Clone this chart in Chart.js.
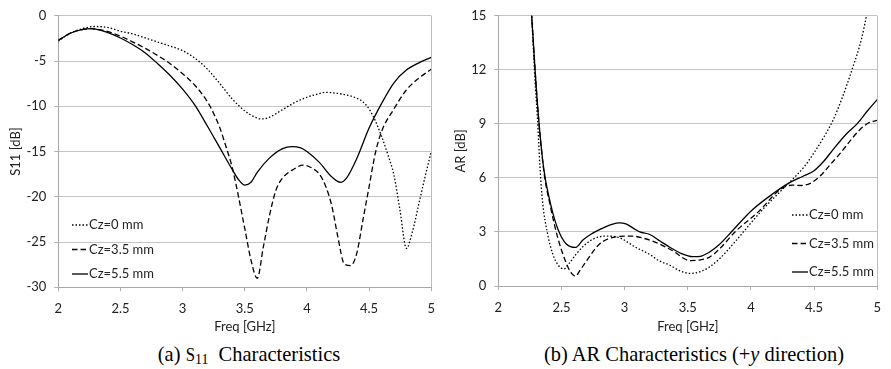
<!DOCTYPE html>
<html>
<head>
<meta charset="utf-8">
<script src="https://cdn.jsdelivr.net/npm/chart.js@4.4.0/dist/chart.umd.min.js"></script>
<style>
body { margin: 0; background: #fff; width: 891px; height: 369px; position: relative; overflow: hidden; }
.box { position: absolute; top: 0; height: 335px; }
.cap { position: absolute; top: 341px; font-family: "Liberation Serif", "Times New Roman", serif; font-size: 22px; color: #000; white-space: nowrap; transform: translateX(-50%) scaleX(0.93); }
</style>
</head>
<body>
<div class="box" style="left:0;width:445px"><canvas id="s11"></canvas></div>
<div class="box" style="left:445px;width:446px"><canvas id="ar"></canvas></div>
<div class="cap" style="left:249px">(a) <span style="font-size:18px">S</span><span style="font-size:15px;position:relative;top:3px">11</span>&nbsp; Characteristics</div>
<div class="cap" style="left:694px">(b) AR Characteristics (+<i>y</i> direction)</div>
<script>
var seriesLabels = ['Cz=0 mm', 'Cz=3.5 mm', 'Cz=5.5 mm'];
var freqTicks = [2, 2.5, 3, 3.5, 4, 4.5, 5];

// S11 [dB]
var s11Freq0 = [2.0, 2.1, 2.2, 2.3, 2.4, 2.5, 2.6, 2.7, 2.8, 2.9, 3.0, 3.1, 3.2, 3.3, 3.4, 3.5, 3.6, 3.65, 3.7, 3.8, 3.9, 4.0, 4.1, 4.15, 4.2, 4.3, 4.4, 4.45, 4.5, 4.55, 4.6, 4.65, 4.7, 4.75, 4.8, 4.85, 4.9, 4.95, 5.0];
var s11Cz0 = [-2.8, -1.9, -1.4, -1.18, -1.3, -1.7, -2.0, -2.45, -2.9, -3.35, -3.85, -4.7, -5.9, -7.5, -9.2, -10.5, -11.3, -11.4, -11.2, -10.4, -9.6, -9.0, -8.6, -8.45, -8.5, -8.7, -9.1, -9.5, -10.3, -11.6, -13.3, -15.3, -17.6, -21.6, -25.7, -23.8, -20.8, -17.8, -15.0];

var s11Freq35 = [2.0, 2.1, 2.2, 2.26, 2.3, 2.4, 2.5, 2.6, 2.7, 2.8, 2.9, 3.0, 3.1, 3.2, 3.25, 3.3, 3.35, 3.4, 3.5, 3.55, 3.6, 3.65, 3.7, 3.75, 3.8, 3.9, 3.97, 4.05, 4.1, 4.15, 4.2, 4.25, 4.3, 4.35, 4.4, 4.45, 4.5, 4.55, 4.6, 4.7, 4.8, 4.9, 5.0];
var s11Cz35 = [-2.7, -1.9, -1.5, -1.42, -1.45, -1.75, -2.25, -2.9, -3.6, -4.4, -5.3, -6.4, -7.7, -9.5, -10.8, -12.4, -14.5, -16.8, -23.5, -27.0, -29.0, -25.5, -22.0, -19.3, -18.0, -16.9, -16.5, -16.9, -17.5, -18.8, -21.0, -24.5, -27.4, -27.6, -26.3, -22.6, -18.9, -15.2, -12.8, -10.3, -8.2, -6.9, -5.9];

var s11Freq55 = [2.0, 2.1, 2.2, 2.26, 2.3, 2.4, 2.5, 2.6, 2.7, 2.8, 2.9, 3.0, 3.1, 3.2, 3.3, 3.4, 3.45, 3.5, 3.55, 3.6, 3.7, 3.8, 3.88, 3.95, 4.0, 4.1, 4.2, 4.27, 4.32, 4.4, 4.5, 4.6, 4.7, 4.8, 4.9, 5.0];
var s11Cz55 = [-2.7, -1.9, -1.5, -1.42, -1.48, -1.85, -2.45, -3.2, -4.1, -5.3, -6.6, -8.1, -9.9, -12.2, -14.6, -17.0, -18.1, -18.7, -18.4, -17.3, -15.7, -14.7, -14.45, -14.6, -15.0, -16.2, -17.8, -18.4, -17.9, -15.8, -12.4, -9.7, -7.4, -6.0, -5.2, -4.6];

// AR [dB]
var arFreq0 = [2.24, 2.264, 2.29, 2.31, 2.33, 2.35, 2.39, 2.43, 2.47, 2.52, 2.56, 2.62, 2.68, 2.75, 2.85, 2.95, 3.09, 3.2, 3.27, 3.36, 3.43, 3.52, 3.6, 3.67, 3.75, 3.88, 4.0, 4.09, 4.24, 4.34, 4.42, 4.5, 4.58, 4.65, 4.72, 4.8, 4.875, 4.915, 5.0];
var arCz0 = [17.5, 15, 11.5, 9.3, 6.6, 4.7, 2.9, 1.8, 1.2, 0.95, 1.25, 1.8, 2.25, 2.6, 2.77, 2.7, 2.14, 1.75, 1.41, 1.15, 0.87, 0.7, 0.8, 1.05, 1.5, 2.5, 3.5, 4.22, 5.3, 6.0, 6.6, 7.4, 8.3, 9.2, 10.4, 12.0, 13.7, 15.0, 18.0];

var arFreq35 = [2.24, 2.264, 2.31, 2.36, 2.41, 2.47, 2.53, 2.57, 2.61, 2.65, 2.7, 2.8, 2.93, 3.06, 3.15, 3.22, 3.37, 3.52, 3.6, 3.67, 3.75, 3.88, 4.06, 4.24, 4.33, 4.4, 4.47, 4.55, 4.63, 4.71, 4.79, 4.86, 4.93, 5.0];
var arCz35 = [17.5, 15, 10.1, 6.4, 4.5, 2.7, 1.41, 0.8, 0.55, 0.9, 1.41, 2.32, 2.73, 2.77, 2.65, 2.5, 2.0, 1.41, 1.45, 1.59, 2.05, 3.04, 4.13, 5.4, 5.6, 5.58, 5.7, 6.12, 6.75, 7.39, 8.1, 8.66, 9.05, 9.2];

var arFreq55 = [2.24, 2.264, 2.31, 2.36, 2.41, 2.45, 2.49, 2.54, 2.61, 2.67, 2.73, 2.83, 2.9, 2.96, 3.01, 3.07, 3.12, 3.2, 3.28, 3.36, 3.45, 3.54, 3.6, 3.67, 3.75, 3.85, 4.01, 4.19, 4.29, 4.42, 4.5, 4.58, 4.65, 4.75, 4.84, 4.92, 5.0];
var arCz55 = [17.5, 15, 10.1, 6.5, 4.67, 3.6, 2.86, 2.32, 2.14, 2.55, 2.86, 3.22, 3.42, 3.5, 3.45, 3.2, 3.0, 2.86, 2.5, 2.14, 1.8, 1.63, 1.65, 1.87, 2.3, 3.04, 4.22, 5.2, 5.67, 6.12, 6.4, 6.95, 7.57, 8.4, 9.0, 9.7, 10.35];

var lineStyles = [
    { borderDash: [1.5, 2] },
    { borderDash: [5.5, 3] },
    { borderDash: [] }
];

var axisFont = { family: 'Lato', size: 13 };

function points(xs, ys) {
    return xs.map(function (x, i) { return { x: x, y: ys[i] }; });
}

function makeDatasets(pairs) {
    return pairs.map(function (p, i) {
        return {
            label: seriesLabels[i],
            data: points(p[0], p[1]),
            borderColor: '#000',
            borderWidth: 1.3,
            borderDash: lineStyles[i].borderDash,
            pointRadius: 0,
            fill: false,
            cubicInterpolationMode: 'monotone',
            tension: 0.4
        };
    });
}

var insideLegend = {
    id: 'insideLegend',
    afterDatasetsDraw: function (chart, args, opts) {
        var ctx = chart.ctx;
        ctx.save();
        chart.data.datasets.forEach(function (ds, i) {
            var y = opts.y + i * opts.gap;
            ctx.beginPath();
            ctx.setLineDash(ds.borderDash);
            ctx.lineWidth = ds.borderWidth;
            ctx.strokeStyle = ds.borderColor;
            ctx.moveTo(opts.x, y);
            ctx.lineTo(opts.x + 16, y);
            ctx.stroke();
            ctx.setLineDash([]);
            ctx.fillStyle = '#222';
            ctx.font = '13px Lato';
            ctx.textBaseline = 'middle';
            ctx.fillText(ds.label, opts.x + 17, y);
        });
        ctx.restore();
    }
};

function makeChart(id, datasets, yMin, yMax, yStep, yTitle, pad, axisW, axisH, legend) {
    return new Chart(document.getElementById(id), {
        type: 'line',
        data: { datasets: datasets },
        plugins: [insideLegend],
        options: {
            responsive: true,
            maintainAspectRatio: false,
            animation: false,
            devicePixelRatio: 1,
            layout: { padding: pad },
            plugins: {
                legend: { display: false },
                tooltip: { enabled: false },
                insideLegend: legend
            },
            scales: {
                x: {
                    type: 'linear',
                    min: 2,
                    max: 5,
                    afterBuildTicks: function (s) { s.ticks = freqTicks.map(function (v) { return { value: v }; }); },
                    afterFit: function (s) { s.height = axisH; },
                    ticks: { font: axisFont, color: '#222', padding: 10, maxRotation: 0, callback: function (v) { return String(v); } },
                    grid: {
                        color: function (c) { return c.tick && c.tick.value === 5 ? '#bdbdbd' : 'rgba(0,0,0,0)'; },
                        tickColor: '#b0b0b0',
                        tickLength: 4
                    },
                    border: { color: '#a8a8a8' },
                    title: { display: true, text: 'Freq [GHz]', font: axisFont, color: '#222', padding: { top: 0, bottom: 0 } }
                },
                y: {
                    min: yMin,
                    max: yMax,
                    afterFit: function (s) { s.width = axisW; },
                    ticks: { stepSize: yStep, font: axisFont, color: '#222', padding: 8, callback: function (v) { return String(v); } },
                    grid: { color: '#c4c4c4', tickColor: '#b0b0b0', tickLength: 4 },
                    border: { color: '#a8a8a8' },
                    title: { display: true, text: yTitle, font: axisFont, color: '#222', padding: { top: 8, bottom: 0 } }
                }
            }
        }
    });
}

window.onload = function () {
    makeChart('s11',
        makeDatasets([[s11Freq0, s11Cz0], [s11Freq35, s11Cz35], [s11Freq55, s11Cz55]]),
        -30, 0, 5, 'S11 [dB]',
        { top: 12.7, right: 8.3, left: 0, bottom: 0 }, 58.3, 47.7,
        { x: 72, y: 225, gap: 24.5 });

    makeChart('ar',
        makeDatasets([[arFreq0, arCz0], [arFreq35, arCz35], [arFreq55, arCz55]]),
        0, 15, 3, 'AR [dB]',
        { top: 10, right: 6.7, left: 0, bottom: 0 }, 53.3, 49,
        { x: 347, y: 215, gap: 28.5 });
};
</script>
</body>
</html>
